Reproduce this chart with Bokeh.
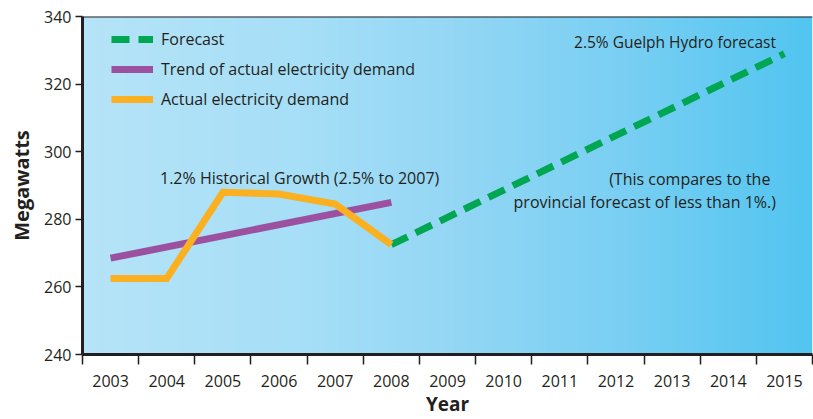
import numpy as np
from bokeh.plotting import figure
from bokeh.models import (Range1d, FixedTicker, Span, Label, Legend, LegendItem)
from bokeh.embed import file_html
from bokeh.resources import INLINE

# ---- data ----
actual_years = [2003, 2004, 2005, 2006, 2007, 2008]
actual_mw = [262.5, 262.5, 288.0, 287.5, 284.5, 272.5]
trend_years = [2003, 2008]
trend_mw = [268.5, 285.0]
forecast_years = [2008, 2015]
forecast_mw = [272.5, 329.0]
year_labels = [str(y) for y in range(2003, 2016)]
y_ticks = [240, 260, 280, 300, 320, 340]

FONT = "Open Sans"
DARK = "#231f20"

p = figure(width=813, height=419, output_backend="svg", toolbar_location=None,
           x_range=Range1d(2002.5, 2015.5), y_range=Range1d(240, 340),
           min_border_left=82, min_border_right=1, min_border_top=16,
           min_border_bottom=65, background_fill_color="white",
           border_fill_color="white", outline_line_color=None)

# background gradient
stops_x = [0.0, 0.3, 0.5, 0.75, 1.0]
stops_c = [(182, 228, 248), (166, 223, 247), (149, 215, 245), (120, 207, 243), (82, 197, 241)]
N = 200
t = np.linspace(0, 1, N)
img = np.zeros((1, N), dtype=np.uint32)
view = img.view(dtype=np.uint8).reshape((1, N, 4))
for k in range(3):
    view[0, :, k] = np.interp(t, stops_x, [c[k] for c in stops_c]).astype(np.uint8)
view[0, :, 3] = 255
p.image_rgba(image=[img], x=2002.5, y=240, dw=13, dh=100)

p.xgrid.grid_line_color = None
p.ygrid.grid_line_color = "white"
p.ygrid.grid_line_width = 1.5
p.ygrid.ticker = FixedTicker(ticks=[260, 280, 300, 320])
p.ygrid.level = "image"

r_fc = p.line(forecast_years, forecast_mw, line_color="#00a651", line_width=7,
              line_dash="18 9")
r_tr = p.line(trend_years, trend_mw, line_color="#9b51a0", line_width=7)
r_ac = p.line(actual_years, actual_mw, line_color="#fbb021", line_width=7,
              line_join="miter")

# axes
xa = p.xaxis[0]
xa.ticker = FixedTicker(ticks=list(range(2003, 2016)),
                        minor_ticks=[y + 0.5 for y in range(2002, 2016)])
xa.major_label_overrides = {y: s for y, s in zip(range(2003, 2016), year_labels)}
xa.major_tick_line_color = None
xa.major_tick_out = 10
xa.major_tick_in = 0
xa.minor_tick_line_color = DARK
xa.minor_tick_line_width = 1.5
xa.minor_tick_out = 10
xa.minor_tick_in = 0
xa.major_label_standoff = 10
xa.axis_line_color = DARK
xa.axis_line_width = 3
xa.major_label_text_font = FONT
xa.major_label_text_font_size = "16px"
xa.major_label_text_color = DARK
xa.axis_label = "Year"
xa.axis_label_text_font = FONT
xa.axis_label_text_font_style = "bold"
xa.axis_label_text_font_size = "19px"
xa.axis_label_text_color = DARK
xa.axis_label_standoff = 1

ya = p.yaxis[0]
ya.ticker = FixedTicker(ticks=y_ticks)
ya.minor_tick_line_color = None
ya.major_tick_line_color = DARK
ya.major_tick_line_width = 1.5
ya.major_tick_out = 7
ya.major_tick_in = 0
ya.major_label_standoff = 4
ya.axis_line_color = DARK
ya.axis_line_width = 3
ya.major_label_text_font = FONT
ya.major_label_text_font_size = "16px"
ya.major_label_text_color = DARK
ya.axis_label = "Megawatts"
ya.axis_label_text_font = FONT
ya.axis_label_text_font_style = "bold"
ya.axis_label_text_font_size = "20px"
ya.axis_label_text_color = DARK
ya.axis_label_standoff = 6

p.add_layout(Span(location=340, dimension="width", line_color=DARK, line_width=2))

# annotations
lab_style = dict(text_font=FONT, text_color=DARK)
p.add_layout(Label(x=2014.85, y=332.5, text="2.5% Guelph Hydro forecast",
                   text_align="right", text_baseline="middle",
                   text_font_size="15.5px", **lab_style))
p.add_layout(Label(x=2014.75, y=292, text="(This compares to the",
                   text_align="right", text_baseline="middle",
                   text_font_size="16px", **lab_style))
p.add_layout(Label(x=2014.85, y=285.2, text="provincial forecast of less than 1%.)",
                   text_align="right", text_baseline="middle",
                   text_font_size="16px", **lab_style))
p.add_layout(Label(x=2003.88, y=292.2, text="1.2% Historical Growth (2.5% to 2007)",
                   text_align="left", text_baseline="middle",
                   text_font_size="16px", **lab_style))

legend = Legend(items=[LegendItem(label="Forecast", renderers=[r_fc]),
                       LegendItem(label="Trend of actual electricity demand", renderers=[r_tr]),
                       LegendItem(label="Actual electricity demand", renderers=[r_ac])],
                location=(29, 244), margin=0, padding=0, spacing=8,
                glyph_width=42, glyph_height=20, label_height=20,
                label_standoff=8, background_fill_alpha=0, border_line_color=None,
                label_text_font=FONT, label_text_font_size="16px",
                label_text_color=DARK)
p.add_layout(legend, "center")

open("out.html", "w").write(file_html(p, INLINE))
